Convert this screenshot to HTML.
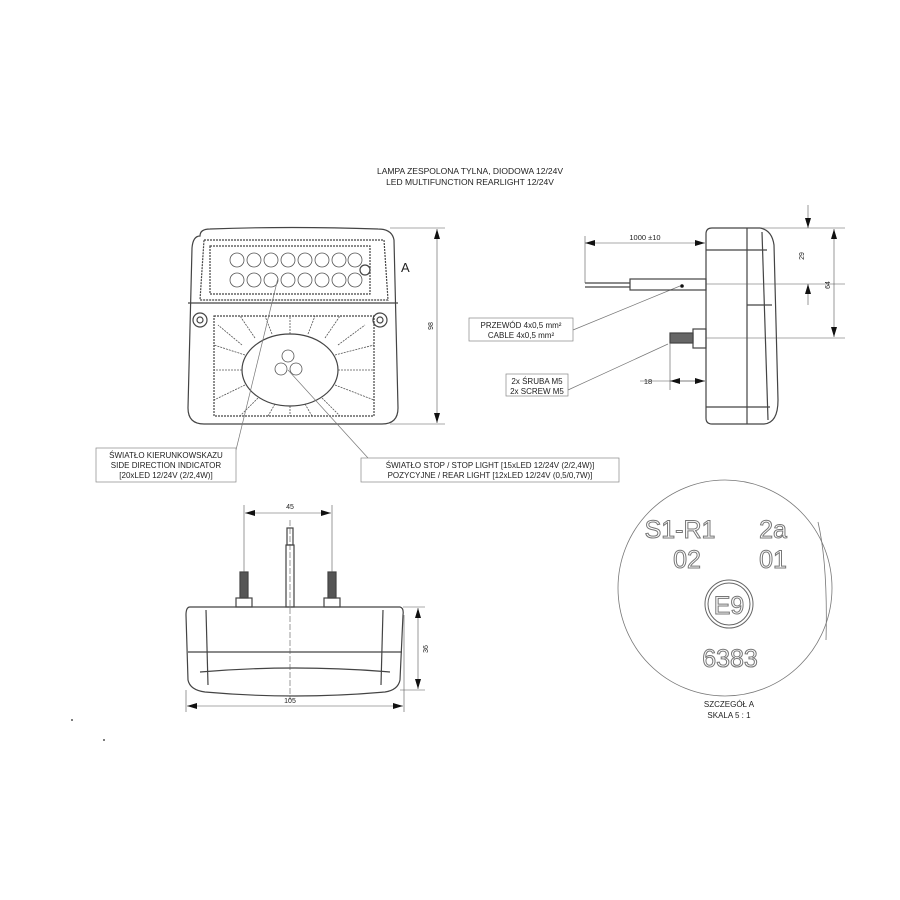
<!DOCTYPE html>
<html><head><meta charset="utf-8"><style>
html,body{margin:0;padding:0;background:#fff;}
svg{display:block}
text{font-family:"Liberation Sans",sans-serif;fill:#222}
text.ol{fill:#fff;stroke:#777;stroke-width:1}
</style></head><body>
<svg width="900" height="900" viewBox="0 0 900 900" xmlns="http://www.w3.org/2000/svg">
<defs>
<marker id="ar" viewBox="0 0 10 6" refX="10" refY="3" markerWidth="10" markerHeight="6" orient="auto-start-reverse" markerUnits="userSpaceOnUse"><path d="M0,0 L10,3 L0,6 z" fill="#111"/></marker>
</defs>
<text x="470" y="174" font-size="8.5" text-anchor="middle">LAMPA ZESPOLONA TYLNA, DIODOWA 12/24V</text>
<text x="470" y="185" font-size="8.5" text-anchor="middle">LED MULTIFUNCTION REARLIGHT 12/24V</text>

<!-- FRONT VIEW -->
<g stroke="#444" fill="none" stroke-width="1.2">
<path d="M200,236 Q200,229 210,229 Q290,226 378,229 Q392,229 394,240 L398,408 Q398,424 382,424 L204,424 Q188,424 188,408 L192,248 Q193,236 200,236 Z"/>
<path d="M204,240 L384,240 L388,300 L200,300 Z" stroke-dasharray="2,1"/>
<rect x="210" y="246" width="160" height="48" stroke-dasharray="2,1"/>
<line x1="188" y1="303" x2="398" y2="303"/>
<rect x="214" y="316" width="160" height="100" stroke-dasharray="2,1"/>
<ellipse cx="290" cy="370" rx="48" ry="36"/>
<circle cx="200" cy="320" r="7"/><circle cx="200" cy="320" r="3"/>
<circle cx="380" cy="320" r="7"/><circle cx="380" cy="320" r="3"/>
<circle cx="365" cy="270" r="5"/>
</g>
<g stroke="#555" fill="none" stroke-width="0.8">
<circle cx="237" cy="260" r="7"/><circle cx="254" cy="260" r="7"/><circle cx="271" cy="260" r="7"/><circle cx="288" cy="260" r="7"/><circle cx="305" cy="260" r="7"/><circle cx="322" cy="260" r="7"/><circle cx="339" cy="260" r="7"/><circle cx="355" cy="260" r="7"/>
<circle cx="237" cy="280" r="7"/><circle cx="254" cy="280" r="7"/><circle cx="271" cy="280" r="7"/><circle cx="288" cy="280" r="7"/><circle cx="305" cy="280" r="7"/><circle cx="322" cy="280" r="7"/><circle cx="339" cy="280" r="7"/><circle cx="355" cy="280" r="7"/>
<circle cx="288" cy="356" r="6"/><circle cx="281" cy="369" r="6"/><circle cx="296" cy="369" r="6"/>
<g stroke-dasharray="2,1">
<line x1="242" y1="345" x2="218" y2="325"/><line x1="255" y1="338" x2="240" y2="316"/><line x1="272" y1="334" x2="265" y2="316"/><line x1="290" y1="334" x2="290" y2="316"/><line x1="308" y1="334" x2="315" y2="316"/><line x1="325" y1="338" x2="340" y2="316"/><line x1="338" y1="345" x2="365" y2="325"/>
<line x1="242" y1="370" x2="214" y2="370"/><line x1="338" y1="370" x2="374" y2="370"/><line x1="245" y1="385" x2="214" y2="400"/><line x1="335" y1="385" x2="374" y2="400"/>
<line x1="258" y1="398" x2="240" y2="416"/><line x1="275" y1="404" x2="268" y2="416"/><line x1="290" y1="406" x2="290" y2="416"/><line x1="305" y1="404" x2="312" y2="416"/><line x1="322" y1="398" x2="340" y2="416"/>
<line x1="245" y1="355" x2="214" y2="345"/><line x1="335" y1="355" x2="374" y2="345"/>
</g>
</g>
<text x="401" y="272" font-size="13">A</text>
<g stroke="#555" stroke-width="0.6">
<line x1="390" y1="228" x2="445" y2="228"/><line x1="390" y1="424" x2="445" y2="424"/>
<line x1="437" y1="229" x2="437" y2="423" marker-start="url(#ar)" marker-end="url(#ar)"/>
</g>
<text x="433" y="326" font-size="7" transform="rotate(-90 433 326)" text-anchor="middle">98</text>

<g stroke="#777" stroke-width="0.7">
<line x1="278" y1="278" x2="236" y2="450"/>
<line x1="288" y1="370" x2="368" y2="458"/>
<line x1="680" y1="286" x2="573" y2="330"/>
<line x1="668" y1="344" x2="568" y2="390"/>
</g>
<rect x="96" y="448" width="140" height="34" fill="#fff" stroke="#888" stroke-width="0.7"/>
<text x="166" y="458" font-size="8" text-anchor="middle">ŚWIATŁO KIERUNKOWSKAZU</text>
<text x="166" y="468" font-size="8" text-anchor="middle">SIDE DIRECTION INDICATOR</text>
<text x="166" y="478" font-size="8" text-anchor="middle">[20xLED 12/24V (2/2,4W)]</text>
<rect x="361" y="458" width="258" height="24" fill="#fff" stroke="#888" stroke-width="0.7"/>
<text x="490" y="468" font-size="8" text-anchor="middle">ŚWIATŁO STOP / STOP LIGHT [15xLED 12/24V (2/2,4W)]</text>
<text x="490" y="478" font-size="8" text-anchor="middle">POZYCYJNE  / REAR LIGHT [12xLED 12/24V (0,5/0,7W)]</text>

<!-- SIDE VIEW -->
<g stroke="#444" fill="none" stroke-width="1.2">
<path d="M712,228 L760,228 Q772,230 774,245 L778,400 Q778,423 764,424 L712,424 Q706,424 706,418 L706,234 Q706,228 712,228 Z"/>
<line x1="747" y1="228" x2="747" y2="424"/>
<line x1="762" y1="232" x2="768" y2="420"/>
<line x1="706" y1="250" x2="767" y2="250"/>
<line x1="706" y1="407" x2="770" y2="407"/>
<line x1="747" y1="305" x2="772" y2="305"/>
<rect x="630" y="279" width="76" height="11"/>
<line x1="585" y1="283" x2="630" y2="283"/><line x1="585" y1="287" x2="630" y2="287"/>
<rect x="693" y="329" width="13" height="19"/>
<rect x="670" y="333" width="23" height="10" fill="#666"/>
</g>
<circle cx="682" cy="286" r="1.8" fill="#111"/>
<g stroke="#555" stroke-width="0.6">
<line x1="585" y1="236" x2="585" y2="283"/>
<line x1="585" y1="243" x2="705" y2="243" marker-start="url(#ar)" marker-end="url(#ar)"/>
<line x1="670" y1="343" x2="670" y2="390"/>
<line x1="640" y1="381" x2="705" y2="381"/>
<line x1="670" y1="381" x2="705" y2="381" marker-start="url(#ar)" marker-end="url(#ar)"/>
<line x1="760" y1="228" x2="845" y2="228"/><line x1="706" y1="284" x2="845" y2="284"/><line x1="706" y1="338" x2="845" y2="338"/>
<line x1="808" y1="205" x2="808" y2="228" marker-end="url(#ar)"/>
<line x1="808" y1="305" x2="808" y2="284" marker-end="url(#ar)"/>
<line x1="834" y1="229" x2="834" y2="337" marker-start="url(#ar)" marker-end="url(#ar)"/>
</g>
<text x="645" y="240" font-size="7.5" text-anchor="middle">1000 ±10</text>
<text x="648" y="384" font-size="7.5" text-anchor="middle">18</text>
<text x="804" y="256" font-size="7" transform="rotate(-90 804 256)" text-anchor="middle">29</text>
<text x="830" y="285" font-size="7" transform="rotate(-90 830 285)" text-anchor="middle">64</text>
<rect x="469" y="318" width="104" height="23" fill="#fff" stroke="#888" stroke-width="0.7"/>
<text x="521" y="328" font-size="8" text-anchor="middle">PRZEWÓD 4x0,5 mm²</text>
<text x="521" y="338" font-size="8" text-anchor="middle">CABLE 4x0,5 mm²</text>
<rect x="506" y="374" width="62" height="22" fill="#fff" stroke="#888" stroke-width="0.7"/>
<text x="537" y="384" font-size="8" text-anchor="middle">2x ŚRUBA M5</text>
<text x="537" y="394" font-size="8" text-anchor="middle">2x SCREW M5</text>

<!-- BOTTOM VIEW -->
<g stroke="#444" fill="none" stroke-width="1.2">
<path d="M190,607 L400,607 Q404,608 403,615 L400,680 Q398,690 385,692 Q295,700 205,692 Q190,690 188,680 L186,615 Q186,607 190,607 Z"/>
<line x1="188" y1="652" x2="402" y2="652"/>
<line x1="206" y1="610" x2="208" y2="685"/><line x1="383" y1="610" x2="381" y2="685"/>
<path d="M200,672 Q295,664 390,672"/>
<rect x="286" y="545" width="8" height="62"/>
<rect x="287" y="528" width="6" height="17"/>
<rect x="240" y="572" width="8" height="26" fill="#555"/>
<rect x="328" y="572" width="8" height="26" fill="#555"/>
<rect x="236" y="598" width="16" height="9"/>
<rect x="324" y="598" width="16" height="9"/>
</g>
<g stroke="#555" stroke-width="0.6">
<line x1="244" y1="505" x2="244" y2="572"/><line x1="332" y1="505" x2="332" y2="572"/>
<line x1="245" y1="513" x2="331" y2="513" marker-start="url(#ar)" marker-end="url(#ar)"/>
<line x1="290" y1="520" x2="290" y2="700" stroke-dasharray="6,2"/>
<line x1="403" y1="607" x2="425" y2="607"/><line x1="400" y1="690" x2="425" y2="690"/>
<line x1="418" y1="608" x2="418" y2="689" marker-start="url(#ar)" marker-end="url(#ar)"/>
<line x1="186" y1="690" x2="186" y2="712"/><line x1="404" y1="615" x2="404" y2="712"/>
<line x1="187" y1="706" x2="403" y2="706" marker-start="url(#ar)" marker-end="url(#ar)"/>
</g>
<text x="290" y="509" font-size="7" text-anchor="middle">45</text>
<text x="290" y="703" font-size="7" text-anchor="middle">105</text>
<text x="428" y="649" font-size="7" transform="rotate(-90 428 649)" text-anchor="middle">36</text>

<!-- DETAIL A -->
<ellipse cx="725" cy="588" rx="107" ry="108" fill="none" stroke="#777" stroke-width="0.8"/>
<path d="M818,522 Q828,565 826,640" fill="none" stroke="#777" stroke-width="0.8"/>
<text class="ol" x="680" y="538" font-size="25" text-anchor="middle">S1-R1</text>
<text class="ol" x="773" y="538" font-size="25" text-anchor="middle">2a</text>
<text class="ol" x="687" y="568" font-size="25" text-anchor="middle">02</text>
<text class="ol" x="773" y="568" font-size="25" text-anchor="middle">01</text>
<text class="ol" x="730" y="667" font-size="25" text-anchor="middle">6383</text>
<text class="ol" x="729" y="614" font-size="25" text-anchor="middle">E9</text>
<circle cx="729" cy="604" r="24" fill="none" stroke="#666" stroke-width="1"/>
<circle cx="729" cy="604" r="21" fill="none" stroke="#666" stroke-width="1"/>
<text x="729" y="707" font-size="8" text-anchor="middle">SZCZEGÓŁ A</text>
<text x="729" y="718" font-size="8" text-anchor="middle">SKALA 5 : 1</text>
<circle cx="72" cy="720" r="1" fill="#555"/><circle cx="104" cy="740" r="1" fill="#555"/>
</svg>
</body></html>
